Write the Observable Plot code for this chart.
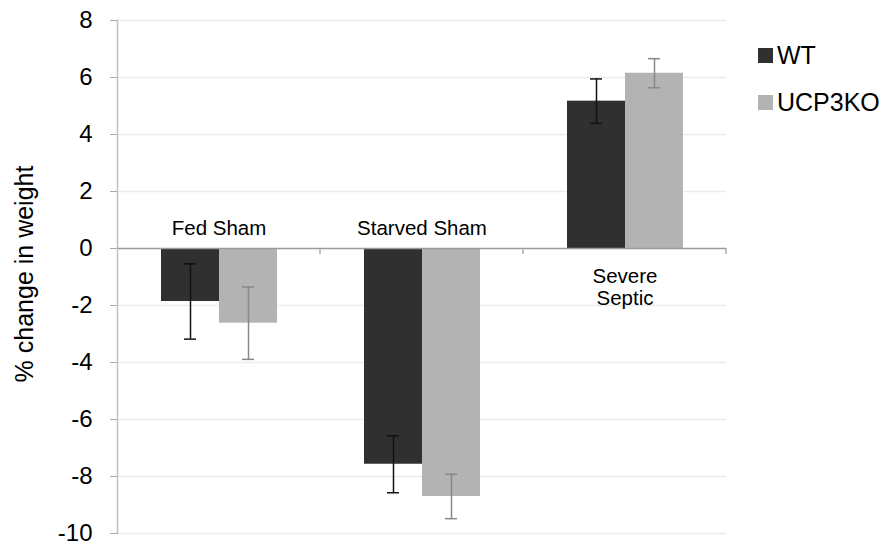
<!DOCTYPE html>
<html><head><meta charset="utf-8">
<script src="https://cdn.jsdelivr.net/npm/d3@7"></script>
<script src="https://cdn.jsdelivr.net/npm/@observablehq/plot@0.6"></script>
<style>
body{margin:0;background:#fff;font-family:"Liberation Sans",Arial,sans-serif}
#wrap{position:relative;width:888px;height:545px}
#ytitle{position:absolute;left:24px;top:274px;transform:translate(-50%,-50%) rotate(-90deg);font-size:25px;white-space:nowrap;color:#000}
#legend{position:absolute;left:758px;top:32px;font-size:25px;color:#000}
.item{display:flex;align-items:center;height:47px}
.sw{width:15px;height:15px;margin-right:4px}
</style></head><body>
<div id="wrap"><div id="chart"></div><div id="ytitle">% change in weight</div><div id="legend"></div></div>
<script>
const categories = ["Fed Sham", "Starved Sham", "Severe Septic"];
const catLabels = ["Fed Sham", "Starved Sham", "Severe\nSeptic"];
const groups = ["WT", "UCP3KO"];
const wtMean = [-1.86, -7.57, 5.17];
const wtErr = [1.32, 1.0, 0.78];
const ucpMean = [-2.62, -8.70, 6.15];
const ucpErr = [1.27, 0.78, 0.51];
const yTicks = [-10, -8, -6, -4, -2, 0, 2, 4, 6, 8];
const barColors = ["#303030", "#b3b3b3"];
const errColors = ["#111111", "#888888"];

const data = [];
categories.forEach((c, i) => {
  groups.forEach((g, j) => {
    const m = j === 0 ? wtMean[i] : ucpMean[i];
    const e = j === 0 ? wtErr[i] : ucpErr[i];
    data.push({cat: c, group: g, value: m, lo: m - e, hi: m + e});
  });
});
const labelData = categories.map((c, i) => ({cat: c, text: catLabels[i], neg: Math.max(wtMean[i], ucpMean[i]) < 0}));

const plot = Plot.plot({
  width: 888, height: 545,
  marginLeft: 117, marginRight: 162, marginTop: 20, marginBottom: 12,
  style: {fontFamily: "'Liberation Sans', Arial, sans-serif", fontSize: "24px", color: "#000", background: "transparent"},
  fx: {domain: categories, paddingInner: 0, paddingOuter: 0, axis: null, label: null},
  x: {domain: groups, paddingInner: 0, paddingOuter: 0.735, axis: null},
  y: {domain: [-10, 8], axis: null},
  color: {domain: groups, range: barColors},
  marks: [
    Plot.ruleY(yTicks.filter(t => t !== 0), {stroke: "#ececec", strokeWidth: 1.5}),
    Plot.barY(data, {fx: "cat", x: "group", y: "value", fill: "group"}),
    Plot.ruleY([0], {stroke: "#9a9a9a", strokeWidth: 1.5}),
    Plot.ruleX(data, {fx: "cat", x: "group", y1: "lo", y2: "hi", stroke: d => errColors[groups.indexOf(d.group)], strokeWidth: 1.5}),
    Plot.tickY(data, {fx: "cat", x: "group", y: "lo", stroke: d => errColors[groups.indexOf(d.group)], strokeWidth: 1.5, insetLeft: 23, insetRight: 23}),
    Plot.tickY(data, {fx: "cat", x: "group", y: "hi", stroke: d => errColors[groups.indexOf(d.group)], strokeWidth: 1.5, insetLeft: 23, insetRight: 23}),
    Plot.text(labelData.filter(d => d.neg), {fx: "cat", y: 0, text: "text", dy: -14, lineAnchor: "bottom", fontSize: 20.5}),
    Plot.text(labelData.filter(d => !d.neg), {fx: "cat", y: 0, text: "text", dy: 18, lineAnchor: "top", lineHeight: 1.1, fontSize: 20.5}),
    Plot.frame({anchor: "left", facetAnchor: "left", stroke: "#c0c0c0", strokeWidth: 1.5}),
    Plot.axisY(yTicks, {tickSize: 7, tickPadding: 18, fontSize: 24, stroke: "#aaaaaa", label: null, tickFormat: d => String(d)})
  ]
});
document.getElementById("chart").appendChild(plot);

// small category-boundary ticks below the zero line, from the fx and y scales
const fxs = plot.scale("fx");
const ys = plot.scale("y");
const y0 = ys.apply(0);
const [r0, r1] = fxs.range;
const n = fxs.domain.length;
const svg = d3.select(plot);
for (let i = 1; i <= n; i++) {
  const xb = r0 + (r1 - r0) * i / n;
  svg.append("line").attr("x1", xb).attr("x2", xb).attr("y1", y0).attr("y2", y0 + 6)
    .attr("stroke", "#aaaaaa").attr("stroke-width", 1.5);
}

const legend = document.getElementById("legend");
groups.forEach((g, j) => {
  const it = document.createElement("div"); it.className = "item";
  const sw = document.createElement("div"); sw.className = "sw"; sw.style.background = barColors[j];
  const t = document.createElement("span"); t.textContent = g;
  it.appendChild(sw); it.appendChild(t); legend.appendChild(it);
});
</script>
</body></html>
